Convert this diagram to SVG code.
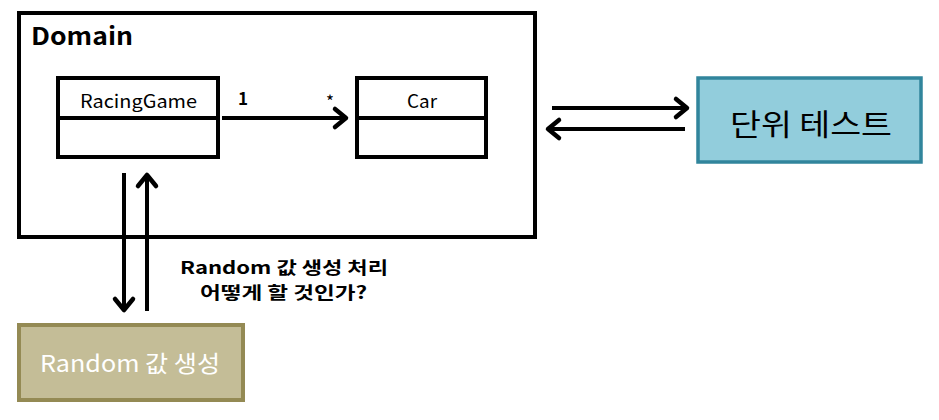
<svg xmlns="http://www.w3.org/2000/svg" width="939" height="420" viewBox="0 0 939 420">
<defs>
<style>
.t{font-family:"Noto Sans CJK KR","Liberation Sans",sans-serif;fill:#000}
.box{fill:#fff;stroke:#000;stroke-width:4}
.ln{stroke:#000;stroke-width:4;fill:none}
</style>
<marker id="ch" markerUnits="userSpaceOnUse" markerWidth="30" markerHeight="30" refX="0" refY="0" viewBox="-16 -15 20 30" orient="auto" overflow="visible">
<path d="M-11,-9 L0,0 L-11,9" fill="none" stroke="#000" stroke-width="4.5" stroke-linecap="round" stroke-linejoin="round"/>
</marker>
</defs>
<rect width="939" height="420" fill="#fff"/>
<g id="domain">
<rect x="19" y="13" width="516" height="224" class="box"/>
<text x="31" y="45" class="t" font-size="24" font-weight="bold" textLength="102" lengthAdjust="spacingAndGlyphs">Domain</text>
</g>
<g id="racinggame">
<rect x="58" y="78" width="160" height="79" class="box"/>
<line x1="58" y1="118" x2="218" y2="118" class="ln"/>
<text x="80" y="108" class="t" font-size="18" textLength="117" lengthAdjust="spacingAndGlyphs">RacingGame</text>
</g>
<g id="car">
<rect x="357" y="78" width="129" height="79" class="box"/>
<line x1="357" y1="118" x2="486" y2="118" class="ln"/>
<text x="407" y="108" class="t" font-size="18" textLength="30" lengthAdjust="spacingAndGlyphs">Car</text>
</g>
<g id="unittest">
<rect x="698" y="78" width="223" height="84" fill="#92CDDC" stroke="#31859C" stroke-width="3.5"/>
<text x="730" y="135" class="t" font-size="30" textLength="162" lengthAdjust="spacingAndGlyphs">단위 테스트</text>
</g>
<g id="random">
<rect x="19" y="325" width="224" height="75" fill="#C4BD97" stroke="#948A54" stroke-width="4"/>
<text x="40" y="372" class="t" font-size="23" style="fill:#fff" textLength="180" lengthAdjust="spacingAndGlyphs">Random 값 생성</text>
</g>
<g id="connectors">
<line x1="222" y1="118" x2="346" y2="118" class="ln" marker-end="url(#ch)"/>
<text x="238" y="105" class="t" font-size="17" font-weight="bold">1</text>
<text x="326" y="108" class="t" font-size="17">*</text>
<line x1="552" y1="108" x2="687" y2="108" class="ln" marker-end="url(#ch)"/>
<line x1="685" y1="129" x2="548" y2="129" class="ln" marker-end="url(#ch)"/>
<line x1="124" y1="173" x2="124" y2="310" class="ln" marker-end="url(#ch)"/>
<line x1="147" y1="311" x2="147" y2="175" class="ln" marker-end="url(#ch)"/>
<text class="t" font-size="17.5" font-weight="bold"><tspan x="180" y="274" textLength="208" lengthAdjust="spacingAndGlyphs">Random 값 생성 처리</tspan><tspan x="200" y="299" textLength="167" lengthAdjust="spacingAndGlyphs">어떻게 할 것인가?</tspan></text>
</g>
</svg>
